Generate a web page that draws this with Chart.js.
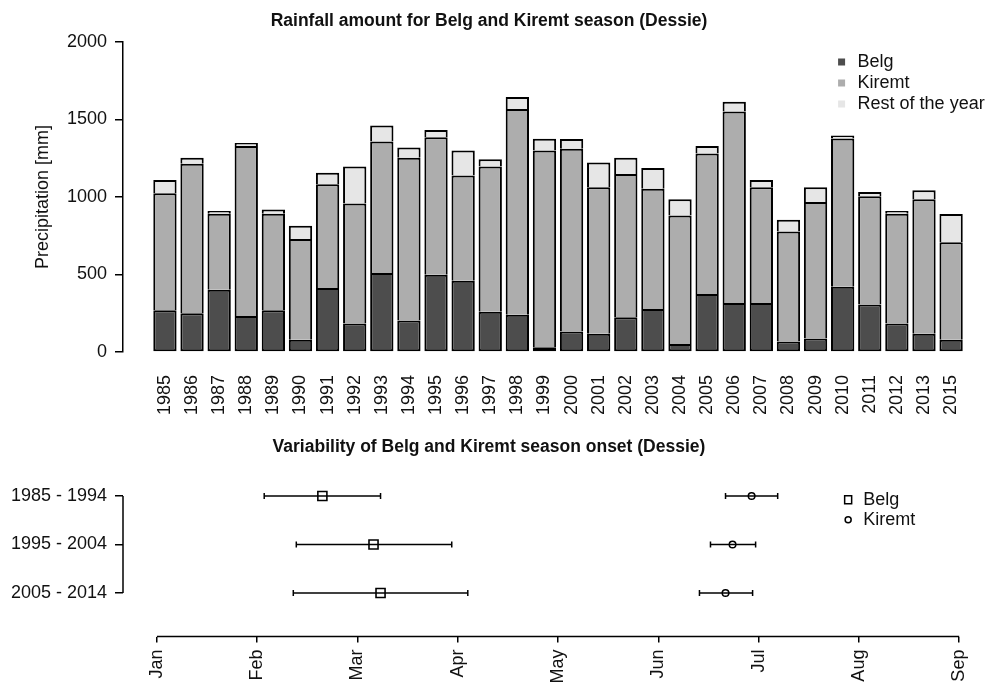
<!DOCTYPE html>
<html>
<head>
<meta charset="utf-8">
<script src="https://cdn.jsdelivr.net/npm/chart.js@4.4.0/dist/chart.umd.min.js"></script>
<style>
  html, body { margin: 0; padding: 0; background: #fff; }
  .box { position: absolute; left: 0; width: 988px; }
</style>
</head>
<body>
<div class="box" style="top:0;height:420px"><canvas id="rainChart"></canvas></div>
<div class="box" style="top:420px;height:262px"><canvas id="onsetChart"></canvas></div>
<script>
// --- rainfall per year (mm) ---
const yearLabels = ['1985','1986','1987','1988','1989','1990','1991','1992','1993','1994',
  '1995','1996','1997','1998','1999','2000','2001','2002','2003','2004',
  '2005','2006','2007','2008','2009','2010','2011','2012','2013','2015'];
const belg = [270,250,402,233,270,79,413,184,509,203,498,460,259,240,30,132,117,225,278,51,374,316,316,68,87,421,306,184,117,79];
const kiremt = [754,965,490,1096,622,650,669,774,849,1051,888,678,937,1328,1270,1179,946,924,775,830,907,1235,747,709,880,957,699,708,869,629];
const restOfYear = [86,38,17,19,28,86,75,238,103,66,47,162,47,77,76,64,160,104,134,105,48,64,47,77,96,19,28,17,58,182];
const precipTicks = [0, 500, 1000, 1500, 2000];

// --- season onset (months after 1 Jan) ---
const periods = ['1985 - 1994','1995 - 2004','2005 - 2014'];
const monthLabels = ['Jan','Feb','Mar','Apr','May','Jun','Jul','Aug','Sep'];
const belgOnset = [1.65, 2.16, 2.23];
const belgLow = [1.07, 1.39, 1.36];
const belgHigh = [2.23, 2.94, 3.10];
const kiremtOnset = [5.93, 5.74, 5.67];
const kiremtLow = [5.67, 5.52, 5.41];
const kiremtHigh = [6.19, 5.97, 5.94];

const FONT = '"Liberation Sans", Arial, sans-serif';
const INK = '#111';
Chart.defaults.font.family = FONT;
Chart.defaults.color = INK;

// axis line only between first and last tick, like base R
const rAxisLines = {
  id: 'rAxisLines',
  afterDraw(chart, args, opts) {
    const ctx = chart.ctx;
    const area = chart.chartArea;
    ctx.save();
    ctx.strokeStyle = '#000';
    ctx.lineWidth = 1.5;
    (opts.scales || []).forEach(id => {
      const s = chart.scales[id];
      const a = s.getPixelForValue(s.ticks[0].value);
      const b = s.getPixelForValue(s.ticks[s.ticks.length - 1].value);
      ctx.beginPath();
      if (s.isHorizontal()) {
        ctx.moveTo(a, area.bottom); ctx.lineTo(b, area.bottom);
      } else {
        ctx.moveTo(area.left, a); ctx.lineTo(area.left, b);
      }
      ctx.stroke();
    });
    ctx.restore();
  }
};

// small legend in the top right corner of the plot
const cornerLegend = {
  id: 'cornerLegend',
  afterDraw(chart, args, opts) {
    if (!opts.items) return;
    const ctx = chart.ctx;
    const area = chart.chartArea;
    ctx.save();
    ctx.font = '18px ' + FONT;
    ctx.textBaseline = 'middle';
    ctx.lineWidth = 1.5;
    opts.items.forEach((it, i) => {
      const x = area.right - opts.right;
      const y = area.top + opts.top + i * opts.gap;
      if (it.marker === 'fill') {
        ctx.fillStyle = it.color;
        ctx.fillRect(x - 3.5, y - 3.5, 7, 7);
      } else if (it.marker === 'square') {
        ctx.strokeStyle = '#000';
        ctx.strokeRect(x - 3.5, y - 4, 7, 8);
      } else {
        ctx.strokeStyle = '#000';
        ctx.beginPath();
        ctx.arc(x, y, 3, 0, Math.PI * 2);
        ctx.stroke();
      }
      ctx.fillStyle = INK;
      ctx.fillText(it.label, x + opts.textGap, y);
    });
    ctx.restore();
  }
};

// ---------- top: stacked bars ----------
const segColors = { belg: '#4d4d4d', kiremt: '#adadad', rest: '#e6e6e6' };
const toPoints = arr => arr.map((v, i) => ({ x: i, y: v }));
const barStyle = { borderColor: '#000', borderWidth: 2, categoryPercentage: 1, barPercentage: 0.86 };

new Chart(document.getElementById('rainChart'), {
  type: 'bar',
  data: {
    datasets: [
      { label: 'Belg', data: toPoints(belg), backgroundColor: segColors.belg, borderSkipped: false, ...barStyle },
      { label: 'Kiremt', data: toPoints(kiremt), backgroundColor: segColors.kiremt, borderSkipped: 'start', ...barStyle },
      { label: 'Rest of the year', data: toPoints(restOfYear), backgroundColor: segColors.rest, borderSkipped: 'start', ...barStyle }
    ]
  },
  options: {
    responsive: true,
    maintainAspectRatio: false,
    animation: false,
    layout: { padding: { left: 0, right: 10, top: 0, bottom: 0 } },
    plugins: {
      legend: { display: false },
      tooltip: { enabled: false },
      title: {
        display: true,
        text: 'Rainfall amount for Belg and Kiremt season (Dessie)',
        font: { size: 17.5, weight: 'bold' },
        color: INK,
        padding: { top: 10.5, bottom: 10.5 }
      },
      cornerLegend: {
        right: 135, top: 20, gap: 21, textGap: 16,
        items: [
          { label: 'Belg', marker: 'fill', color: segColors.belg },
          { label: 'Kiremt', marker: 'fill', color: segColors.kiremt },
          { label: 'Rest of the year', marker: 'fill', color: segColors.rest }
        ]
      }
    },
    scales: {
      x: {
        type: 'linear',
        stacked: true,
        offset: false,
        min: -1.547,
        max: 29.94,
        afterBuildTicks: s => { s.ticks = yearLabels.map((_, i) => ({ value: i })); },
        afterFit: s => { s.height = 68; },
        grid: { display: false },
        border: { display: false },
        ticks: {
          autoSkip: false,
          minRotation: 90,
          maxRotation: 90,
          padding: 15,
          font: { size: 18 },
          color: INK,
          callback: v => yearLabels[v]
        }
      },
      y: {
        stacked: true,
        min: 0,
        max: 2000,
        afterBuildTicks: s => { s.ticks = precipTicks.map(v => ({ value: v })); },
        afterFit: s => { s.width = 123; },
        grid: { drawOnChartArea: false, drawTicks: true, tickLength: 8, color: '#000', lineWidth: 1.5 },
        border: { display: true, color: '#000', width: 1.5 },
        ticks: { padding: 8, font: { size: 18 }, color: INK, callback: v => String(v) },
        title: {
          display: true,
          text: 'Precipitation [mm]',
          font: { size: 18 },
          color: INK,
          padding: { top: 32, bottom: 0 }
        }
      }
    }
  },
  plugins: [cornerLegend]
});

// ---------- bottom: onset with ranges ----------
const rowY = i => periods.length - i;
const onsetDatasets = [
  {
    label: 'Belg',
    data: belgOnset.map((v, i) => ({ x: v, y: rowY(i) })),
    pointStyle: 'rect', pointRadius: 6.4, pointBorderWidth: 1.6,
    pointBackgroundColor: 'rgba(0,0,0,0)', pointBorderColor: '#000'
  },
  {
    label: 'Kiremt',
    data: kiremtOnset.map((v, i) => ({ x: v, y: rowY(i) })),
    pointStyle: 'circle', pointRadius: 3.3, pointBorderWidth: 1.5,
    pointBackgroundColor: 'rgba(0,0,0,0)', pointBorderColor: '#000'
  }
];
[[belgLow, belgHigh], [kiremtLow, kiremtHigh]].forEach(([lo, hi]) => {
  lo.forEach((v, i) => {
    onsetDatasets.push({
      label: 'range',
      data: [{ x: v, y: rowY(i) }, { x: hi[i], y: rowY(i) }],
      showLine: true,
      borderColor: '#000',
      borderWidth: 1.5,
      pointStyle: 'line',
      rotation: 90,
      pointRadius: 3,
      pointBorderWidth: 1.5,
      pointBorderColor: '#000'
    });
  });
});

new Chart(document.getElementById('onsetChart'), {
  type: 'scatter',
  data: { datasets: onsetDatasets },
  options: {
    responsive: true,
    maintainAspectRatio: false,
    animation: false,
    layout: { padding: { left: 0, right: 10, top: 0, bottom: 0 } },
    plugins: {
      legend: { display: false },
      tooltip: { enabled: false },
      title: {
        display: true,
        text: 'Variability of Belg and Kiremt season onset (Dessie)',
        font: { size: 17.5, weight: 'bold' },
        color: INK,
        padding: { top: 16.5, bottom: 14.25 }
      },
      cornerLegend: {
        right: 128, top: 28, gap: 20, textGap: 15,
        items: [
          { label: 'Belg', marker: 'square' },
          { label: 'Kiremt', marker: 'circle' }
        ]
      },
      rAxisLines: { scales: ['x', 'y'] }
    },
    scales: {
      x: {
        type: 'linear',
        min: -0.338,
        max: 8.169,
        afterBuildTicks: s => { s.ticks = monthLabels.map((_, i) => ({ value: i })); },
        afterFit: s => { s.height = 45.4; },
        grid: { drawOnChartArea: false, drawTicks: true, tickLength: 6, color: '#000', lineWidth: 1.5 },
        border: { display: false },
        ticks: {
          autoSkip: false,
          minRotation: 90,
          maxRotation: 90,
          padding: 7,
          font: { size: 18 },
          color: INK,
          callback: v => monthLabels[v]
        }
      },
      y: {
        type: 'linear',
        min: 0.1,
        max: 3.5,
        afterBuildTicks: s => { s.ticks = periods.map((_, i) => ({ value: rowY(i) })); },
        afterFit: s => { s.width = 123; },
        grid: { drawOnChartArea: false, drawTicks: true, tickLength: 8, color: '#000', lineWidth: 1.5 },
        border: { display: false },
        ticks: {
          padding: 8,
          font: { size: 18 },
          color: INK,
          callback: v => periods[periods.length - v]
        }
      }
    }
  },
  plugins: [cornerLegend, rAxisLines]
});
</script>
</body>
</html>
